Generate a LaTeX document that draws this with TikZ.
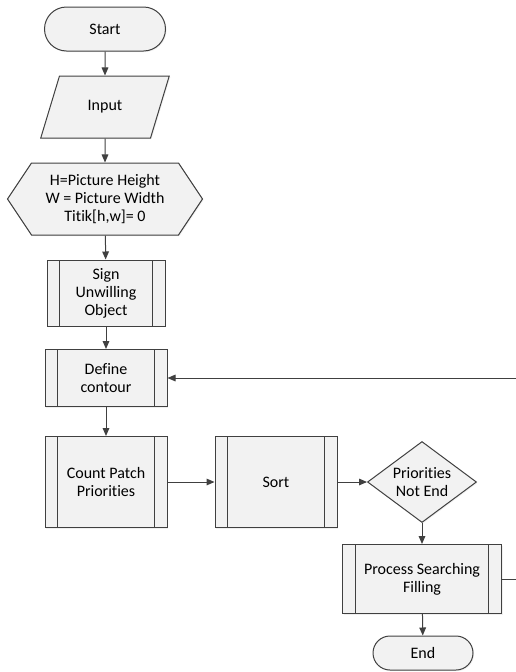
\documentclass[tikz,border=0pt]{standalone}
\usepackage{fontspec}
\setmainfont[Ligatures=NoCommon]{Carlito}
\usepackage{tikz}
\usetikzlibrary{shapes,shapes.geometric,shapes.symbols,arrows.meta,positioning,calc,shadows}
\definecolor{lineGray}{RGB}{64, 64, 64}
\definecolor{boxGray}{RGB}{242, 242, 242}

\begin{document}
\begin{tikzpicture}[x=0.75pt,y=-0.75pt,
                base/.style={draw=lineGray,fill=boxGray,line width=0.75pt,align=center,
                             font=\fontsize{12pt}{13.5pt}\selectfont,inner sep=0pt,
                             drop shadow={shadow xshift=0.8pt,shadow yshift=-0.8pt,fill=black!12}},
                terminal/.style={base,rectangle,rounded corners=#1,minimum height=2*#1},
                inbox/.style={base,trapezium,trapezium left angle=61,trapezium right angle=119,
                              trapezium stretches,minimum width=96.75pt,minimum height=46.5pt},
                prepbox/.style={base,signal,signal to=west and east,signal pointer angle=112.6,
                                minimum width=146.25pt,minimum height=54pt},
                subproc/.style={base,rectangle,
                                path picture={\draw[lineGray,line width=0.75pt]
                                  ([xshift=9.5pt]path picture bounding box.north west) -- ([xshift=9.5pt]path picture bounding box.south west)
                                  ([xshift=-9.5pt]path picture bounding box.north east) -- ([xshift=-9.5pt]path picture bounding box.south east);}},
                decide/.style={base,diamond,aspect=1.35,minimum width=81.75pt,minimum height=60.75pt},
                flow/.style={draw=lineGray,line width=0.75pt,-{Triangle[length=6pt,width=5pt]}}
            ]
                \useasboundingbox (0,0) rectangle (516,672);
                % main column
                \node[terminal=16.5pt,minimum width=90.75pt] (start) at (105,29) {Start};
                \node[inbox] (input) at (105,107) {Input};
                \node[prepbox] (init) at (105,199) {H=Picture Height\\W = Picture Width\\Titik[h,w]= 0};
                \node[subproc,minimum width=88.5pt,minimum height=49.5pt] (sign) at (106,293) {Sign\\Unwilling\\Object};
                \node[subproc,minimum width=91.5pt,minimum height=42.75pt] (contour) at (106,378) {Define\\contour};
                \node[subproc,minimum width=91.5pt,minimum height=68.25pt] (count) at (106,482) {Count Patch\\Priorities};
                % right side
                \node[subproc,minimum width=91.5pt,minimum height=68.25pt] (sort) at (276,482) {Sort};
                \node[decide] (check) at (422,482) {Priorities\\Not End};
                \node[subproc,minimum width=119.25pt,minimum height=51.75pt] (fill) at (422,579) {Process Searching\\Filling};
                \node[terminal=12.75pt,minimum width=75pt] (end) at (423,653) {End};
                \coordinate (loopLow) at (517,579);
                \coordinate (loopHigh) at (517,378);

                \draw[flow] (start) -- (input);
                \draw[flow] (input) -- (init);
                \draw[flow] (init) -- (sign);
                \draw[flow] (sign) -- (contour);
                \draw[flow] (contour) -- (count);
                \draw[flow] (count) -- (sort);
                \draw[flow] (sort) -- (check);
                \draw[flow] (check) -- (fill);
                \draw[flow] (fill) -- (end);
                \draw[flow] (fill.east) -- (loopLow) -- (loopHigh) -- (contour.east);
            \end{tikzpicture}
\end{document}
